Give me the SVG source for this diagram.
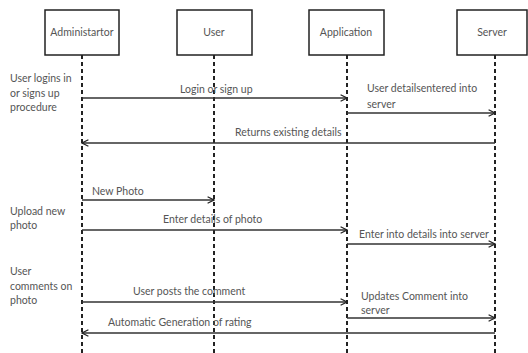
<svg xmlns="http://www.w3.org/2000/svg" width="528" height="353" viewBox="0 0 528 353">
<style>
.box{fill:#fff;stroke:#222;stroke-width:1.5}
.life{stroke:#222;stroke-width:2;stroke-dasharray:4 3;fill:none}
.msg{stroke:#333;stroke-width:1.6;fill:none}
.t{font-family:Lato,"Open Sans",sans-serif;font-size:10.5px;fill:#555}
.c{text-anchor:middle}
</style>
<defs>
<marker id="ah" viewBox="0 0 10 10" refX="9" refY="5" markerWidth="8" markerHeight="8" markerUnits="userSpaceOnUse" orient="auto">
<path d="M1,1 L9,5 L1,9" fill="none" stroke="#222" stroke-width="1.6"/>
</marker>
</defs>
<rect width="528" height="353" fill="#fff"/>
<g id="administartor"><rect class="box" x="45" y="10" width="74" height="45"/><text class="t c" x="82" y="36">Administartor</text></g>
<g id="user"><rect class="box" x="177" y="10" width="75" height="45"/><text class="t c" x="214" y="36">User</text></g>
<g id="application"><rect class="box" x="309" y="10" width="75" height="45"/><text class="t c" x="346" y="36">Application</text></g>
<g id="server"><rect class="box" x="457" y="10" width="70" height="45"/><text class="t c" x="492" y="36">Server</text></g>
<g id="lifelines">
<line class="life" x1="82" y1="55" x2="82" y2="353"/>
<line class="life" x1="214" y1="55" x2="214" y2="353"/>
<line class="life" x1="347" y1="55" x2="347" y2="353"/>
<line class="life" x1="495" y1="55" x2="495" y2="353"/>
</g>
<g id="connectors">
<line class="msg" x1="82" y1="98" x2="347" y2="98" marker-end="url(#ah)"/>
<line class="msg" x1="347" y1="113" x2="495" y2="113" marker-end="url(#ah)"/>
<line class="msg" x1="495" y1="143" x2="82" y2="143" marker-end="url(#ah)"/>
<line class="msg" x1="82" y1="200" x2="214" y2="200" marker-end="url(#ah)"/>
<line class="msg" x1="82" y1="230" x2="347" y2="230" marker-end="url(#ah)"/>
<line class="msg" x1="347" y1="244" x2="495" y2="244" marker-end="url(#ah)"/>
<line class="msg" x1="82" y1="302" x2="347" y2="302" marker-end="url(#ah)"/>
<line class="msg" x1="347" y1="318" x2="495" y2="318" marker-end="url(#ah)"/>
<line class="msg" x1="495" y1="333" x2="82" y2="333" marker-end="url(#ah)"/>
</g>
<g id="labels">
<text class="t" x="180" y="93">Login or sign up</text>
<text class="t" x="367" y="92">User detailsentered into</text>
<text class="t" x="367" y="108">server</text>
<text class="t" x="235" y="136">Returns existing details</text>
<text class="t" x="92" y="195">New Photo</text>
<text class="t" x="163" y="223">Enter details of photo</text>
<text class="t" x="359" y="238">Enter into details into server</text>
<text class="t" x="133" y="295">User posts the comment</text>
<text class="t" x="361" y="300">Updates Comment into</text>
<text class="t" x="361" y="314">server</text>
<text class="t" x="108" y="326">Automatic Generation of rating</text>
<text class="t" x="10" y="82">User logins in</text>
<text class="t" x="10" y="97">or signs up</text>
<text class="t" x="10" y="111">procedure</text>
<text class="t" x="10" y="215">Upload new</text>
<text class="t" x="10" y="229">photo</text>
<text class="t" x="10" y="275">User</text>
<text class="t" x="10" y="290">comments on</text>
<text class="t" x="10" y="304">photo</text>
</g>
</svg>
